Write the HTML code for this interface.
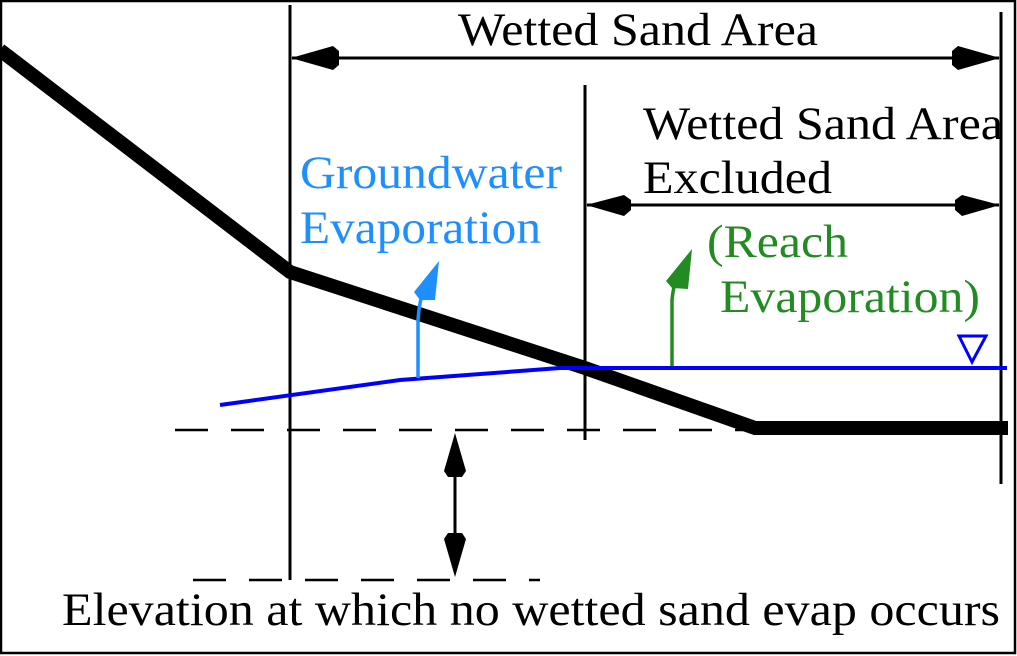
<!DOCTYPE html>
<html><head><style>
html,body{margin:0;padding:0;background:#fff}
svg{display:block}
text{font-family:"Liberation Serif",serif;font-size:47px}
</style></head><body>
<svg width="1017" height="656" viewBox="0 0 1017 656" xmlns="http://www.w3.org/2000/svg">
<rect x="1" y="1" width="1014" height="652" fill="#fff" stroke="#000" stroke-width="2.5"/>
<line x1="290" y1="5" x2="290" y2="580" stroke="#000" stroke-width="3"/>
<line x1="585" y1="85" x2="585" y2="440" stroke="#000" stroke-width="3"/>
<line x1="1001" y1="12" x2="1001" y2="484" stroke="#000" stroke-width="3"/>
<line x1="175" y1="430" x2="760" y2="430" stroke="#000" stroke-width="2.5" stroke-dasharray="33 23"/>
<line x1="193" y1="580" x2="540" y2="580" stroke="#000" stroke-width="2.5" stroke-dasharray="33 23"/>
<polyline points="0,50 290,272 585,368 755,428 1008,428" fill="none" stroke="#000" stroke-width="14"/>
<polyline points="220,405 400,380 560,368 1007,368" fill="none" stroke="#0000ff" stroke-width="4"/>
<polygon points="959,336 986,336 972,362" fill="none" stroke="#0000ff" stroke-width="3"/>
<path d="M418,378 L418,320 Q419,305 422,295" fill="none" stroke="#1e8fff" stroke-width="3.5"/>
<polygon points="439,261 435,300 420,300 414,292" fill="#1e8fff"/>
<path d="M672,366 L672,300 Q673,290 675,283" fill="none" stroke="#228b22" stroke-width="3.5"/>
<polygon points="692,249 688,289 672,288 666,281" fill="#228b22"/>
<line x1="292" y1="58" x2="999" y2="58" stroke="#000" stroke-width="3"/>
<polygon points="291,58 333,46 339,51 339,65 333,70" fill="#000"/>
<polygon points="1000,58 958,46 952,51 952,65 958,70" fill="#000"/>
<line x1="587" y1="205" x2="999" y2="205" stroke="#000" stroke-width="3"/>
<polygon points="586,205 624,195 631,200 631,210 624,216" fill="#000"/>
<polygon points="1000,205 962,195 955,200 955,210 962,216" fill="#000"/>
<line x1="455" y1="440" x2="455" y2="570" stroke="#000" stroke-width="3"/>
<polygon points="455,433 466,471 462,477 448,477 444,471" fill="#000"/>
<polygon points="455,577 466,539 462,533 448,533 444,539" fill="#000"/>
<text x="458" y="45" textLength="360" lengthAdjust="spacingAndGlyphs">Wetted Sand Area</text>
<text x="643" y="139" textLength="360" lengthAdjust="spacingAndGlyphs">Wetted Sand Area</text>
<text x="643" y="193" textLength="189" lengthAdjust="spacingAndGlyphs">Excluded</text>
<text x="300" y="188" fill="#1e8fff" textLength="262" lengthAdjust="spacingAndGlyphs">Groundwater</text>
<text x="300" y="243" fill="#1e8fff" textLength="241" lengthAdjust="spacingAndGlyphs">Evaporation</text>
<text x="707" y="257" fill="#228b22" textLength="141" lengthAdjust="spacingAndGlyphs">(Reach</text>
<text x="720" y="312" fill="#228b22" textLength="260" lengthAdjust="spacingAndGlyphs">Evaporation)</text>
<text x="62" y="625" textLength="938" lengthAdjust="spacingAndGlyphs">Elevation at which no wetted sand evap occurs</text>
</svg>
</body></html>
